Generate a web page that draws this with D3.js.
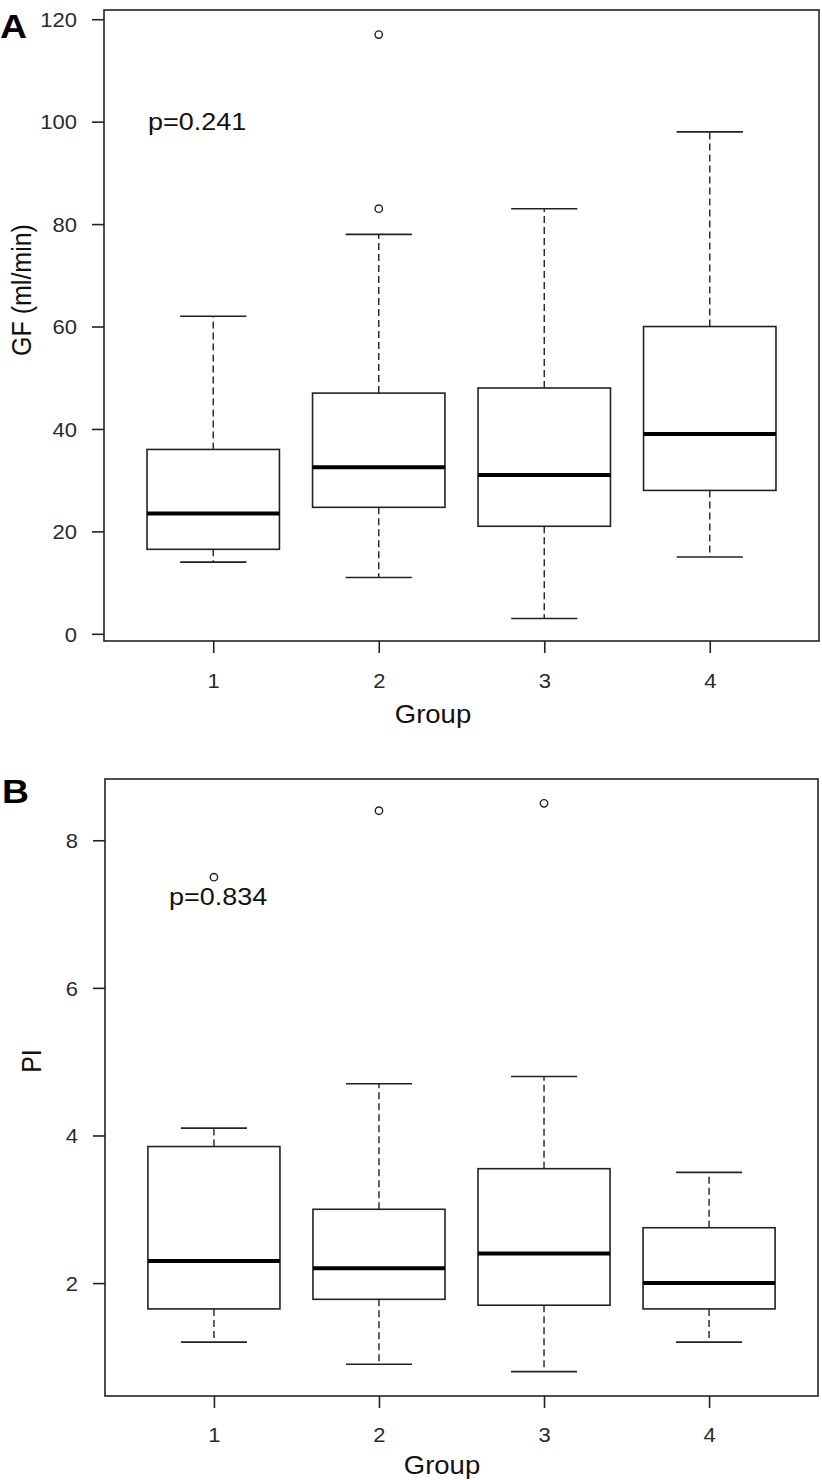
<!DOCTYPE html>
<html>
<head>
<meta charset="utf-8">
<script src="https://cdn.jsdelivr.net/npm/d3@7"></script>
<style>
  html, body { margin: 0; padding: 0; background: #fff; }
  svg { display: block; }
  text { font-family: "Liberation Sans", Arial, sans-serif; }
</style>
</head>
<body>
<svg id="chart" width="822" height="1480"></svg>
<script>
// ---------- DATA ----------
const categories = ["1", "2", "3", "4"];

// Panel A: GF (ml/min)
const gfLower   = [14, 11, 3, 15];
const gfQ1      = [16.5, 24.7, 21, 28];
const gfMedian  = [23.5, 32.5, 31, 39];
const gfQ3      = [36, 47, 48, 60];
const gfUpper   = [62, 78, 83, 98];
const gfOutliers = [[], [83, 117], [], []];
const gfTicks   = [0, 20, 40, 60, 80, 100, 120];

// Panel B: PI
const piLower   = [1.2, 0.9, 0.8, 1.2];
const piQ1      = [1.65, 1.78, 1.7, 1.65];
const piMedian  = [2.3, 2.2, 2.4, 2.0];
const piQ3      = [3.85, 3.0, 3.55, 2.75];
const piUpper   = [4.1, 4.7, 4.8, 3.5];
const piOutliers = [[7.5], [8.4], [8.5], []];
const piTicks   = [2, 4, 6, 8];

// ---------- DRAW ----------
const svg = d3.select("#chart");
const INK = "#222";
const LABEL = "#2a2a2a";
const SX = 1.1; // horizontal stretch of the original image text

function panel(cfg) {
  const x = d3.scaleLinear().domain([0.34, 4.66]).range([cfg.left, cfg.right]);
  const y = d3.scaleLinear().domain(cfg.yDomain).range([cfg.bottom, cfg.top]);
  const g = svg.append("g");

  const boxes = categories.map((c, i) => ({
    c, i: i + 1,
    lo: cfg.lower[i], q1: cfg.q1[i], med: cfg.median[i], q3: cfg.q3[i], hi: cfg.upper[i],
    out: cfg.outliers[i]
  }));

  const bg = g.selectAll("g.box").data(boxes).join("g").attr("class", "box");

  // whiskers (dashed)
  bg.append("line")
    .attr("x1", d => x(d.i)).attr("x2", d => x(d.i))
    .attr("y1", d => y(d.q3)).attr("y2", d => y(d.hi))
    .attr("stroke", INK).attr("stroke-width", 1.4).attr("stroke-dasharray", "7,4");
  bg.append("line")
    .attr("x1", d => x(d.i)).attr("x2", d => x(d.i))
    .attr("y1", d => y(d.q1)).attr("y2", d => y(d.lo))
    .attr("stroke", INK).attr("stroke-width", 1.4).attr("stroke-dasharray", "7,4");
  // caps
  bg.append("line")
    .attr("x1", d => x(d.i - 0.2)).attr("x2", d => x(d.i + 0.2))
    .attr("y1", d => y(d.hi)).attr("y2", d => y(d.hi))
    .attr("stroke", INK).attr("stroke-width", 1.6);
  bg.append("line")
    .attr("x1", d => x(d.i - 0.2)).attr("x2", d => x(d.i + 0.2))
    .attr("y1", d => y(d.lo)).attr("y2", d => y(d.lo))
    .attr("stroke", INK).attr("stroke-width", 1.6);
  // box
  bg.append("rect")
    .attr("x", d => x(d.i - 0.4)).attr("width", d => x(d.i + 0.4) - x(d.i - 0.4))
    .attr("y", d => y(d.q3)).attr("height", d => y(d.q1) - y(d.q3))
    .attr("fill", "#fff").attr("stroke", INK).attr("stroke-width", 1.6);
  // median
  bg.append("line")
    .attr("x1", d => x(d.i - 0.4)).attr("x2", d => x(d.i + 0.4))
    .attr("y1", d => y(d.med)).attr("y2", d => y(d.med))
    .attr("stroke", "#000").attr("stroke-width", 4);
  // outliers
  bg.selectAll("circle").data(d => d.out.map(v => ({ i: d.i, v }))).join("circle")
    .attr("cx", d => x(d.i)).attr("cy", d => y(d.v)).attr("r", 3.7)
    .attr("fill", "none").attr("stroke", INK).attr("stroke-width", 1.4);

  // frame
  g.append("rect")
    .attr("x", cfg.left).attr("y", cfg.top)
    .attr("width", cfg.right - cfg.left).attr("height", cfg.bottom - cfg.top)
    .attr("fill", "none").attr("stroke", INK).attr("stroke-width", 1.6);

  // y axis
  const yAxis = g.append("g").attr("transform", `translate(${cfg.left},0)`)
    .call(d3.axisLeft(y).tickValues(cfg.ticks).tickSize(12).tickSizeOuter(0).tickFormat(d3.format("d")));
  yAxis.select(".domain").remove();
  yAxis.selectAll(".tick line").attr("stroke", INK).attr("stroke-width", 1.6);
  yAxis.selectAll(".tick text").remove();
  yAxis.selectAll(".tick").append("text")
    .attr("transform", `translate(-27,0) scale(${SX},1)`)
    .attr("text-anchor", "end").attr("dy", "0.36em")
    .attr("fill", LABEL).attr("font-size", 20)
    .text(d => d);

  // x axis
  const xAxis = g.append("g").attr("transform", `translate(0,${cfg.bottom})`)
    .call(d3.axisBottom(x).tickValues([1, 2, 3, 4]).tickSize(12).tickSizeOuter(0));
  xAxis.select(".domain").remove();
  xAxis.selectAll(".tick line").attr("stroke", INK).attr("stroke-width", 1.6);
  xAxis.selectAll(".tick text").remove();
  xAxis.selectAll(".tick").append("text")
    .attr("transform", `translate(0,${cfg.xTickBase - cfg.bottom}) scale(${SX},1)`)
    .attr("text-anchor", "middle")
    .attr("fill", LABEL).attr("font-size", 20)
    .text((d, i) => categories[i]);

  // x label
  g.append("text")
    .attr("transform", `translate(${cfg.xLabX},${cfg.xLabY}) scale(${SX},1)`)
    .attr("text-anchor", "middle").attr("fill", "#111").attr("font-size", 25)
    .text("Group");

  // y label
  g.append("text")
    .attr("transform", `translate(${cfg.yLabX},${cfg.yLabY}) rotate(-90) scale(1,${SX})`)
    .attr("text-anchor", "middle").attr("fill", "#111").attr("font-size", 25)
    .text(cfg.yLabel);

  // p-value
  g.append("text")
    .attr("transform", `translate(${cfg.pX},${cfg.pY}) scale(${SX},1)`)
    .attr("fill", "#111").attr("font-size", 24.5)
    .text(cfg.pText);

  // panel letter
  g.append("text")
    .attr("transform", `translate(${cfg.letterX},${cfg.letterY}) scale(${SX},1)`)
    .attr("fill", "#000").attr("font-size", 34).attr("font-weight", "bold")
    .text(cfg.letter);
}

panel({
  left: 104, right: 819, top: 10, bottom: 641,
  yDomain: [-1.4, 121.8],
  lower: gfLower, q1: gfQ1, median: gfMedian, q3: gfQ3, upper: gfUpper, outliers: gfOutliers,
  ticks: gfTicks,
  xTickBase: 688, xLabX: 433, xLabY: 723,
  yLabX: 31, yLabY: 290, yLabel: "GF (ml/min)",
  pX: 148, pY: 130, pText: "p=0.241",
  letterX: 0, letterY: 38, letter: "A"
});

panel({
  left: 105, right: 818, top: 779, bottom: 1396,
  yDomain: [0.47, 8.83],
  lower: piLower, q1: piQ1, median: piMedian, q3: piQ3, upper: piUpper, outliers: piOutliers,
  ticks: piTicks,
  xTickBase: 1442, xLabX: 442, xLabY: 1474,
  yLabX: 41, yLabY: 1061, yLabel: "PI",
  pX: 169, pY: 905, pText: "p=0.834",
  letterX: 2, letterY: 803, letter: "B"
});
</script>
</body>
</html>
